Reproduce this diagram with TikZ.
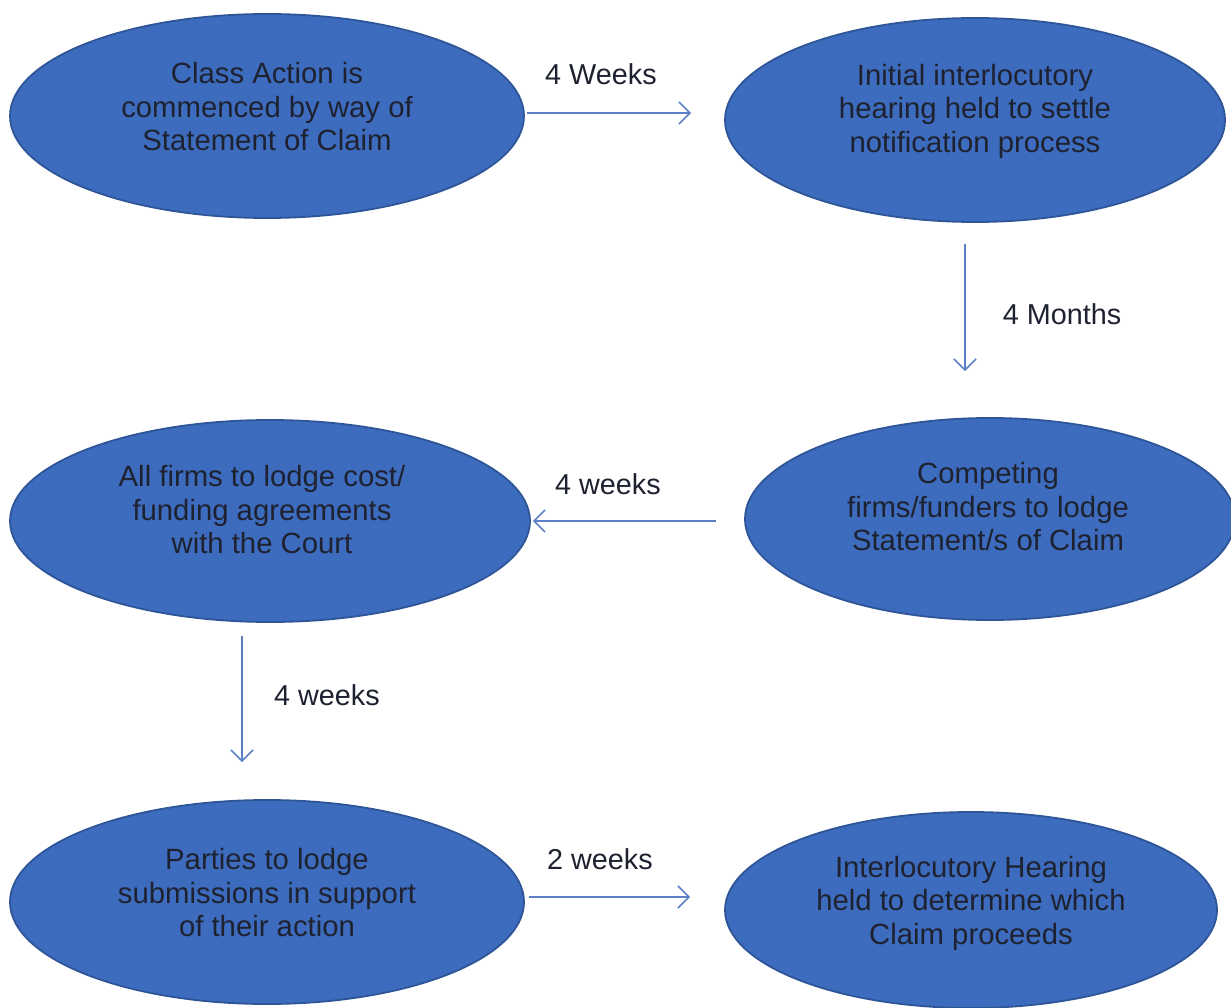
\documentclass[tikz,border=0pt]{standalone}
\usepackage{fontspec}
\setmainfont{Liberation Sans}
\usetikzlibrary{shapes.geometric,arrows.meta}
\definecolor{ovalfill}{HTML}{3D6BBD}
\definecolor{ovalline}{HTML}{2E5597}
\definecolor{arrowblue}{HTML}{5B80C6}
\definecolor{txtcol}{HTML}{1E2230}
\tikzset{
  oval/.style={ellipse, draw=ovalline, line width=1.8pt, fill=ovalfill, inner sep=0pt},
  ovaltext/.style={align=center, text=txtcol, font=\fontsize{29.3}{33.5}\selectfont, inner sep=0pt},
  steplabel/.style={text=txtcol, font=\fontsize{28.8}{32}\selectfont, inner sep=0pt},
  flow/.style={draw=arrowblue, line width=1.6pt, -{Straight Barb[length=11pt,width=22pt,line width=1.6pt]}}
}
\begin{document}
\begin{tikzpicture}[x=1pt,y=-1pt]
\useasboundingbox (0,0) rectangle (1231,1008);
% ovals
\node[oval, minimum width=514pt, minimum height=204pt] (e1) at (267,116) {};
\node[oval, minimum width=500pt, minimum height=204pt] (e2) at (975,120) {};
\node[oval, minimum width=490pt, minimum height=202pt] (e3) at (990,519) {};
\node[oval, minimum width=520pt, minimum height=202pt] (e4) at (270,521) {};
\node[oval, minimum width=514pt, minimum height=204pt] (e5) at (267,902) {};
\node[oval, minimum width=492pt, minimum height=196pt] (e6) at (971,910) {};
% texts
\node[ovaltext] (t1) at ([yshift=9pt]e1.center) {Class Action is\\commenced by way of\\Statement of Claim};
\node[ovaltext] (t2) at ([yshift=9pt]e2.center) {Initial interlocutory\\hearing held to settle\\notification process};
\node[ovaltext] (t3) at ([yshift=12pt,xshift=-2pt]e3.center) {Competing\\firms/funders to lodge\\Statement/s of Claim};
\node[ovaltext] (t4) at ([yshift=11pt,xshift=-8pt]e4.center) {All firms to lodge cost/\\funding agreements\\with the Court};
\node[ovaltext] (t5) at ([yshift=9pt]e5.center) {Parties to lodge\\submissions in support\\of their action};
\node[ovaltext] (t6) at ([yshift=7pt]e6.center) {Interlocutory Hearing\\held to determine which\\Claim proceeds};
% connectors
\draw[flow, shorten <=2pt, shorten >=33pt] ([yshift=3pt]e1.east) -- ([yshift=3pt]e1.east -| e2.west);
\draw[flow, shorten <=21pt, shorten >=46pt] ([xshift=-10pt]e2.south) -- ([xshift=-10pt]e2.south |- e3.north);
\draw[flow, shorten <=28pt, shorten >=2pt] ([yshift=-2pt]e3.west) -- ([yshift=-2pt]e3.west -| e4.east);
\draw[flow, shorten <=13pt, shorten >=37pt] ([xshift=-28pt]e4.south) -- ([xshift=-28pt]e4.south |- e5.north);
\draw[flow, shorten <=4pt, shorten >=34pt] ([yshift=5pt]e5.east) -- ([yshift=5pt]e5.east -| e6.west);
% labels
\node[steplabel] (l1) at (601,74) {4 Weeks};
\node[steplabel] (l2) at (1062,314) {4 Months};
\node[steplabel] (l3) at (608,484) {4 weeks};
\node[steplabel] (l4) at (327,695) {4 weeks};
\node[steplabel] (l5) at (600,859) {2 weeks};
\end{tikzpicture}
\end{document}
